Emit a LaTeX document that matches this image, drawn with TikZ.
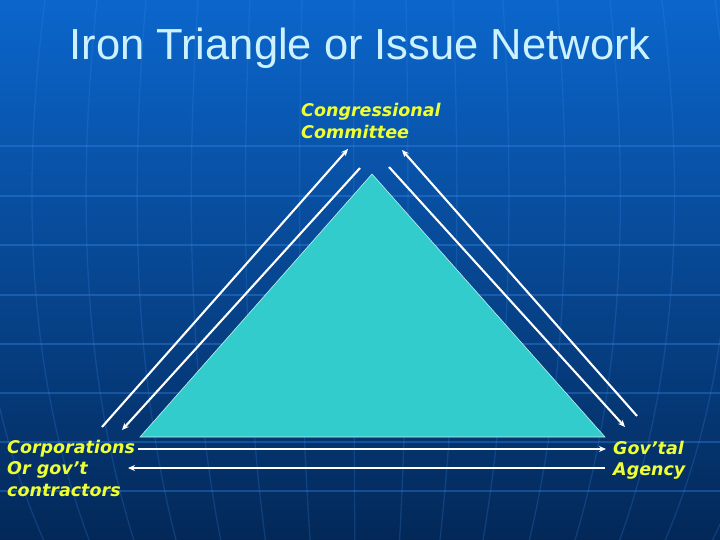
\documentclass[tikz,border=0pt]{standalone}
\usepackage{fontspec}
\setmainfont{Liberation Sans}
\newfontfamily\labfont{DejaVu Sans}
\usetikzlibrary{arrows.meta}
\definecolor{bgtop}{HTML}{0B66CC}
\definecolor{bgbot}{HTML}{032858}
\definecolor{titlecol}{HTML}{CCF2FF}
\definecolor{labcol}{HTML}{EEFF33}
\definecolor{tri}{HTML}{33CCCC}
\definecolor{gridcol}{HTML}{3A8CF0}
\tikzset{
  lab/.style={font=\labfont\bfseries\itshape\fontsize{17.5}{21.5}\selectfont, text=labcol, inner sep=0pt, align=left},
  link/.style={draw=white, line width=2.1pt, -{Stealth[length=7pt,width=6pt]}},
  grid line/.style={draw=gridcol, opacity=0.35, line width=1.3pt}
}
\begin{document}
\begin{tikzpicture}[x=1pt,y=-1pt]
\useasboundingbox (0,0) rectangle (720,540);
\shade[top color=bgtop, bottom color=bgbot] (0,0) rectangle (720,540);
% faint globe grid
\foreach \yy in {146,196,245,295,344,393,442,491} {
  \draw[grid line] (0,\yy) -- (720,\yy);
}
\foreach \xx in {-60,-8,45,97,146,198,250,302,354,406,453,503,557,610,662,715,770} {
  \draw[grid line, opacity=0.22] (\xx,0) .. controls ({360+(\xx-360)*1.08},200) and ({360+(\xx-360)*1.05},380) .. ({360+(\xx-360)*0.86},540);
}
% title
\node[font=\fontsize{43.5}{50}\selectfont, text=titlecol, anchor=base] (title) at (360,60) {Iron Triangle or Issue Network};
% triangle
\filldraw[fill=tri, draw=white!70!tri, line width=0.6pt] (372,174) -- (140,437) -- (605,437) -- cycle;
% labels (base anchor = baseline of last line)
\node[lab, anchor=base west] (cc) at (301,138.5) {Congressional\\Committee};
\node[lab, anchor=base west] (corp) at (7,496) {Corporations\\Or gov’t\\contractors};
\node[lab, anchor=base west] (agency) at (613,475.5) {Gov’tal\\Agency};
% endpoints
\coordinate (lo1) at (102,427); \coordinate (lo2) at (348,149);
\coordinate (li1) at (360,168); \coordinate (li2) at (122,430);
\coordinate (ro1) at (637,416); \coordinate (ro2) at (402,150);
\coordinate (ri1) at (389,167); \coordinate (ri2) at (625,427);
\coordinate (b11) at (138,449); \coordinate (b12) at (606,449);
\coordinate (b21) at (605,468); \coordinate (b22) at (128,468);
\draw[link] (lo1) -- (lo2);
\draw[link] (li1) -- (li2);
\draw[link] (ro1) -- (ro2);
\draw[link] (ri1) -- (ri2);
\draw[link] (b11) -- (b12);
\draw[link] (b21) -- (b22);
\end{tikzpicture}
\end{document}
